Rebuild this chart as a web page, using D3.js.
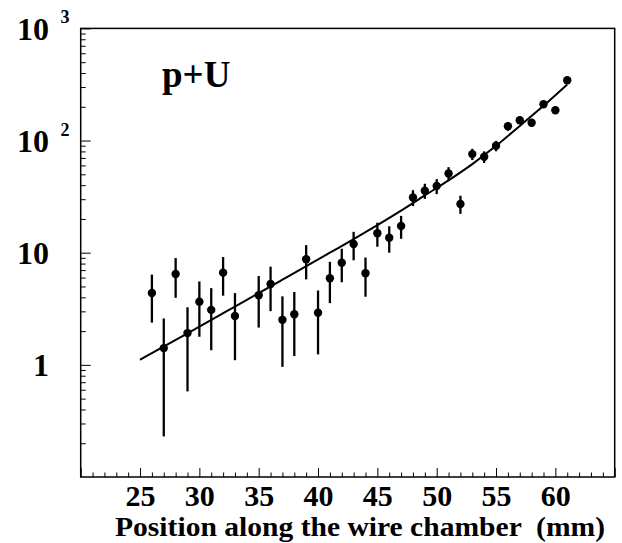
<!DOCTYPE html>
<html>
<head>
<meta charset="utf-8">
<script src="https://cdn.jsdelivr.net/npm/d3@7"></script>
<style>
  html, body { margin: 0; padding: 0; background: #fff; }
  svg { display: block; }
</style>
</head>
<body>
<svg id="chart" width="622" height="543"></svg>
<script>
// ---- data ----
const positions = [26,27,28,29,30,31,32,33,35,36,37,38,39,40,41,42,43,44,45,46,47,48,49,50,51,52,53,54,55,56,57,58,59,60,61];
const counts    = [4.38,1.41,6.46,1.92,3.66,3.09,6.64,2.73,4.17,5.26,2.52,2.83,8.73,2.92,5.92,8.15,11.95,6.55,14.9,13.6,17.3,31.1,35.7,39.3,50.9,27.2,75.7,71.6,89.8,134,152,144,211,186,345];
const errors    = [2.0,1.18,2.5,1.34,1.88,1.74,2.5,1.63,2.02,2.25,1.56,1.63,2.95,1.68,2.37,2.7,3.4,2.5,3.6,3.6,4.0,5.0,5.5,6.0,7.0,5.0,8.7,8.5,9.5,11.6,12.3,12.0,14.5,13.6,18.6];
const fitX      = [25,29,33,37,41,43,45,47,49,51,53,55,57,59,61];
const fitY      = [1.11,1.91,3.31,5.75,10.0,13.2,17.6,23.7,32.4,44.2,61.7,89.7,135,204,316];
const xMajorTicks = [20,25,30,35,40,45,50,55,60,65];
const yMajorTicks = [1,10,100,1000];
const yLabels = [{v:1, base:"1", exp:""},{v:10, base:"10", exp:""},{v:100, base:"10", exp:"2"},{v:1000, base:"10", exp:"3"}];
const title = "p+U";
const xTitle = "Position along the wire chamber  (mm)";

// ---- layout ----
const L = 80.7, R = 614.7, T = 28.4, B = 477;
const FONT = "'Liberation Serif', 'Times New Roman', serif";
const svg = d3.select("#chart");

const x = d3.scaleLinear().domain([20, 65]).range([L, R]);
const y = d3.scaleLog().domain([0.1, 1000]).range([B, T]);

const xMinor = d3.range(20, 66, 1).filter(v => v % 5 !== 0);
const yMinor = [];
[0.1, 1, 10, 100].forEach(d => { for (let m = 2; m <= 9; m++) yMinor.push(d * m); });

// minor x ticks
svg.append("g").attr("transform", `translate(0,${B})`)
  .call(d3.axisBottom(x).tickValues(xMinor).tickSize(-4.5).tickFormat(""))
  .call(g => g.select(".domain").remove())
  .call(g => g.selectAll("line").attr("stroke", "#000").attr("stroke-width", 1));
// major x ticks + labels
svg.append("g").attr("transform", `translate(0,${B})`)
  .call(d3.axisBottom(x).tickValues(xMajorTicks).tickSize(-9).tickPadding(7.2).tickFormat(d => (d === 20 || d === 65) ? "" : d3.format("d")(d)))
  .call(g => g.select(".domain").remove())
  .call(g => g.selectAll("line").attr("stroke", "#000").attr("stroke-width", 1))
  .call(g => g.selectAll("text").attr("fill", "#000")
    .style("font-family", FONT).style("font-weight", "bold").style("font-size", "30px"));

// minor y ticks
svg.append("g").attr("transform", `translate(${L},0)`)
  .call(d3.axisLeft(y).tickValues(yMinor).tickSize(-5).tickFormat(""))
  .call(g => g.select(".domain").remove())
  .call(g => g.selectAll("line").attr("stroke", "#000").attr("stroke-width", 1));
// major y ticks
svg.append("g").attr("transform", `translate(${L},0)`)
  .call(d3.axisLeft(y).tickValues(yMajorTicks).tickSize(-10).tickFormat(""))
  .call(g => g.select(".domain").remove())
  .call(g => g.selectAll("line").attr("stroke", "#000").attr("stroke-width", 1));

// y labels (10^n style)
const yl = svg.append("g").attr("font-family", FONT).attr("font-weight", "bold").attr("fill", "#000");
yLabels.forEach(d => {
  yl.append("text").attr("x", 49).attr("y", y(d.v) + 11.5)
    .attr("text-anchor", "end").attr("font-size", 32).text(d.base);
  if (d.exp) {
    yl.append("text").attr("x", 60.5).attr("y", y(d.v) - 5)
      .attr("font-size", 18).text(d.exp);
  }
});

// frame
svg.append("rect").attr("x", L).attr("y", T).attr("width", R - L).attr("height", B - T)
  .attr("fill", "none").attr("stroke", "#000").attr("stroke-width", 1.5);

// fit curve
const line = d3.line().x((d, i) => x(fitX[i])).y(d => y(d)).curve(d3.curveMonotoneX);
svg.append("path").attr("d", line(fitY))
  .attr("fill", "none").attr("stroke", "#000").attr("stroke-width", 2);

// error bars
svg.append("g").selectAll("line").data(positions).join("line")
  .attr("x1", d => x(d)).attr("x2", d => x(d))
  .attr("y1", (d, i) => y(Math.max(counts[i] - errors[i], 0.1)))
  .attr("y2", (d, i) => y(counts[i] + errors[i]))
  .attr("stroke", "#000").attr("stroke-width", 2.3);

// points
svg.append("g").selectAll("circle").data(positions).join("circle")
  .attr("cx", d => x(d)).attr("cy", (d, i) => y(counts[i])).attr("r", 4.2)
  .attr("fill", "#000");

// title inside the plot
svg.append("text").attr("x", 162).attr("y", 87)
  .attr("font-family", FONT).attr("font-weight", "bold").attr("font-size", 37)
  .attr("fill", "#000").text(title);

// x axis title
svg.append("text").attr("x", 115).attr("y", 536)
  .attr("font-family", FONT).attr("font-weight", "bold").attr("font-size", 27)
  .attr("textLength", 490).attr("lengthAdjust", "spacingAndGlyphs")
  .style("white-space", "pre").attr("fill", "#000").text(xTitle);
</script>
</body>
</html>
